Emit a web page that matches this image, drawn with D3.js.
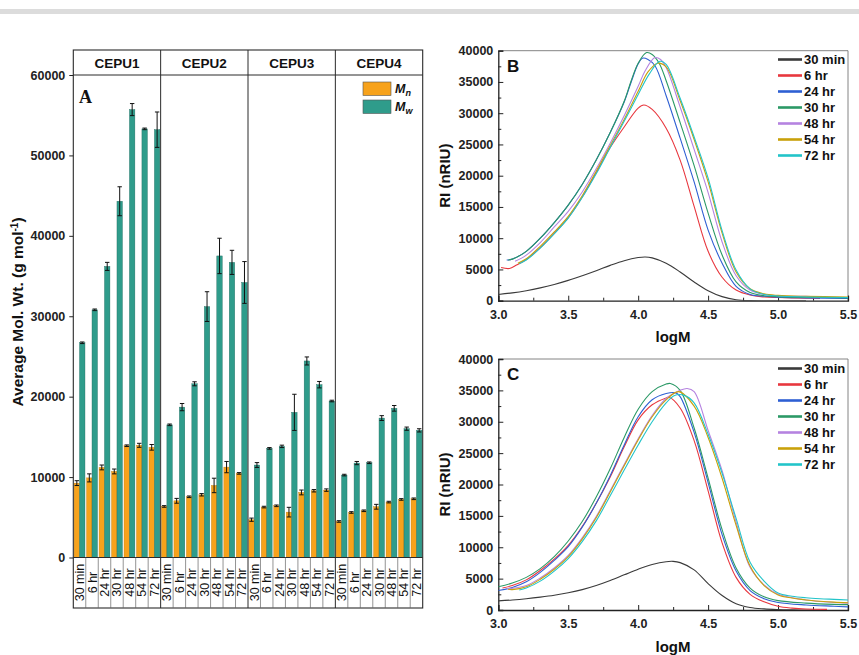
<!DOCTYPE html>
<html><head><meta charset="utf-8">
<script src="https://cdn.jsdelivr.net/npm/d3@7"></script>
<style>body{margin:0;background:#fff}svg{display:block}</style>
</head><body>
<svg id="c" width="859" height="655"></svg>
<script>
// ---------------- data ----------------
const groups = ["CEPU1","CEPU2","CEPU3","CEPU4"];
const times = ["30 min","6 hr","24 hr","30 hr","48 hr","54 hr","72 hr"];
const mnCEPU1 = [9250, 9900, 11200, 10700, 13900, 13950, 13700];
const mwCEPU1 = [26700, 30800, 36200, 44300, 55700, 53300, 53200];
const mnCEPU2 = [6350, 7050, 7550, 7800, 8960, 11240, 10460];
const mwCEPU2 = [16500, 18700, 21600, 31200, 37500, 36700, 34200];
const mnCEPU3 = [4700, 6270, 6430, 5640, 8090, 8300, 8380];
const mwCEPU3 = [11500, 13570, 13820, 18050, 24440, 21490, 19460];
const mnCEPU4 = [4480, 5600, 5810, 6310, 6890, 7220, 7300];
const mwCEPU4 = [10250, 11740, 11780, 17340, 18550, 16020, 15810];
const mnErrCEPU1 = [300, 500, 300, 300, 100, 250, 350];
const mwErrCEPU1 = [100, 100, 500, 1800, 750, 100, 2200];
const mnErrCEPU2 = [100, 300, 100, 150, 900, 700, 100];
const mwErrCEPU2 = [100, 450, 250, 1850, 2200, 1500, 2600];
const mnErrCEPU3 = [200, 100, 100, 600, 300, 150, 150];
const mwErrCEPU3 = [300, 100, 150, 2250, 500, 400, 100];
const mnErrCEPU4 = [100, 100, 100, 300, 100, 100, 100];
const mwErrCEPU4 = [100, 200, 100, 300, 350, 200, 200];
const barTicks = [0, 10000, 20000, 30000, 40000, 50000, 60000];

const seriesNames = ["30 min","6 hr","24 hr","30 hr","48 hr","54 hr","72 hr"];
const seriesColors = ["#3a3a3a","#e8373e","#2e5fd3","#2b9966","#b583e0","#c9a10a","#22c4c9"];
const riTicks = [0,5000,10000,15000,20000,25000,30000,35000,40000];
const logTicks = [3.0,3.5,4.0,4.5,5.0,5.5];

const b30min = [[3.0,1000],[3.1,1250],[3.2,1600],[3.3,2050],[3.4,2600],[3.5,3250],[3.6,4000],[3.7,4800],[3.8,5650],[3.9,6400],[4.0,6900],[4.05,7000],[4.1,6850],[4.2,6000],[4.3,4600],[4.4,3000],[4.5,1600],[4.6,650],[4.7,150],[4.8,10],[5.0,0],[5.2,0]];
const b6hr = [[3.02,5300],[3.08,5150],[3.13,5700],[3.2,6600],[3.3,8500],[3.4,10800],[3.5,13300],[3.6,16600],[3.7,20500],[3.8,24500],[3.9,27800],[4.0,30800],[4.04,31300],[4.1,30600],[4.2,27600],[4.3,22500],[4.4,15100],[4.5,7900],[4.6,3750],[4.7,1700],[4.8,900],[4.9,600],[5.0,500],[5.2,400],[5.3,350]];
const b24hr = [[3.06,6500],[3.1,6650],[3.2,7900],[3.3,10000],[3.4,12500],[3.5,15300],[3.6,18600],[3.7,22500],[3.8,26900],[3.9,31800],[3.95,35000],[4.0,37900],[4.03,38800],[4.07,38600],[4.12,37600],[4.2,32800],[4.3,26000],[4.4,19000],[4.5,11300],[4.6,6000],[4.7,2300],[4.8,1000],[4.9,700],[5.0,550],[5.2,450],[5.5,350]];
const b30hr = [[3.07,6500],[3.1,6650],[3.2,7900],[3.3,10000],[3.4,12500],[3.5,15300],[3.6,18600],[3.7,22500],[3.8,26900],[3.9,31900],[3.95,35200],[4.0,38000],[4.06,39700],[4.1,39400],[4.15,38000],[4.2,35200],[4.3,28500],[4.4,21600],[4.5,14000],[4.6,7300],[4.7,3000],[4.8,1300],[4.9,800],[5.0,650],[5.2,550],[5.5,450]];
const b48hr = [[3.12,6300],[3.2,7300],[3.3,9300],[3.4,11800],[3.5,14300],[3.6,17400],[3.7,21100],[3.8,25200],[3.9,29600],[4.0,34300],[4.05,36800],[4.12,38900],[4.16,38600],[4.2,37300],[4.3,31000],[4.4,24200],[4.5,17300],[4.6,9400],[4.7,4000],[4.8,1700],[4.9,1000],[5.0,800],[5.2,700],[5.3,650]];
const b54hr = [[3.14,6000],[3.2,6700],[3.3,8700],[3.4,11000],[3.5,13500],[3.6,16800],[3.7,20700],[3.8,24800],[3.9,29000],[4.0,33500],[4.07,36600],[4.14,38000],[4.2,37400],[4.3,32000],[4.4,25800],[4.5,19000],[4.6,10800],[4.7,4600],[4.8,1900],[4.9,1100],[5.0,850],[5.2,700],[5.5,600]];
const b72hr = [[3.15,5900],[3.2,6500],[3.3,8400],[3.4,10700],[3.5,13200],[3.6,16500],[3.7,20300],[3.8,24500],[3.9,28700],[4.0,33000],[4.08,36300],[4.155,38300],[4.2,37800],[4.3,32400],[4.4,26200],[4.5,19600],[4.6,11200],[4.7,4900],[4.8,1900],[4.9,1000],[5.0,750],[5.2,600],[5.5,500]];

const c30min = [[3.0,1450],[3.1,1600],[3.2,1800],[3.3,2050],[3.4,2350],[3.5,2750],[3.6,3250],[3.7,3900],[3.8,4700],[3.9,5600],[4.0,6500],[4.1,7250],[4.2,7700],[4.25,7750],[4.3,7550],[4.4,6400],[4.5,4200],[4.6,2300],[4.7,1000],[4.8,400],[4.9,180],[5.0,80],[5.1,30],[5.2,0],[5.3,0]];
const c6hr = [[3.03,3500],[3.1,3900],[3.2,4800],[3.3,6300],[3.4,8100],[3.5,10300],[3.6,13300],[3.7,17000],[3.8,21200],[3.9,26000],[4.0,30300],[4.1,32700],[4.2,33800],[4.22,33900],[4.3,32200],[4.4,27000],[4.5,19000],[4.6,10700],[4.7,5200],[4.8,2500],[4.9,1300],[5.0,600],[5.1,300],[5.2,150],[5.35,100]];
const c24hr = [[3.0,3100],[3.1,3600],[3.2,4500],[3.3,6000],[3.4,7900],[3.5,10100],[3.6,13200],[3.7,17000],[3.8,21400],[3.9,26300],[4.0,30800],[4.1,33500],[4.2,34500],[4.27,34600],[4.3,34000],[4.4,28300],[4.5,20300],[4.6,12000],[4.7,6200],[4.8,3100],[4.9,1800],[5.0,1200],[5.2,800],[5.4,600],[5.5,500]];
const c30hr = [[3.0,3700],[3.1,4300],[3.2,5200],[3.3,6600],[3.4,8500],[3.5,11000],[3.6,14100],[3.7,18000],[3.8,22500],[3.9,27500],[4.0,32000],[4.1,34800],[4.2,36000],[4.23,36100],[4.3,35000],[4.4,29000],[4.5,21000],[4.6,12800],[4.7,6700],[4.8,3500],[4.9,2100],[5.0,1500],[5.2,1100],[5.4,900],[5.5,850]];
const c48hr = [[3.06,3400],[3.1,3450],[3.2,3900],[3.3,5100],[3.4,6700],[3.5,8700],[3.6,11500],[3.7,14900],[3.8,19000],[3.9,23200],[4.0,27300],[4.1,31000],[4.2,33700],[4.3,35000],[4.35,35300],[4.4,34800],[4.5,28600],[4.6,22200],[4.7,14000],[4.8,6800],[4.9,4000],[5.0,2500],[5.2,1600],[5.4,1200],[5.5,1100]];
const c54hr = [[3.07,3300],[3.1,3250],[3.2,3700],[3.3,4900],[3.4,6500],[3.5,8500],[3.6,11300],[3.7,14700],[3.8,18800],[3.9,23000],[4.0,27100],[4.1,30800],[4.2,33500],[4.29,34800],[4.4,32500],[4.5,27500],[4.6,21000],[4.7,13500],[4.8,7000],[4.9,3900],[5.0,2400],[5.1,1900],[5.2,1600],[5.3,1400],[5.4,1250],[5.5,1150]];
const c72hr = [[3.15,3200],[3.2,3500],[3.3,4600],[3.4,6200],[3.5,8200],[3.6,10900],[3.7,14200],[3.8,18200],[3.9,22300],[4.0,26300],[4.1,30000],[4.2,33000],[4.26,34200],[4.33,34200],[4.4,33000],[4.5,28000],[4.6,21800],[4.7,14600],[4.8,7600],[4.9,4600],[5.0,2700],[5.1,2200],[5.2,1950],[5.3,1800],[5.4,1700],[5.5,1600]];

// ---------------- drawing ----------------
const svg = d3.select("#c");
const FONT = '"Liberation Sans",Arial,sans-serif';
svg.append("rect").attr("x",0).attr("y",9).attr("width",859).attr("height",5).attr("fill","#dcdcdc");
function txt(sel){ return sel.style("font-family",FONT); }

// ===== Panel A =====
const A = {x0:73.3, x1:422.7, top:50, head:75, base:557.5, bottom:608};
const mnAll = [mnCEPU1,mnCEPU2,mnCEPU3,mnCEPU4];
const mwAll = [mwCEPU1,mwCEPU2,mwCEPU3,mwCEPU4];
const mnErrAll = [mnErrCEPU1,mnErrCEPU2,mnErrCEPU3,mnErrCEPU4];
const mwErrAll = [mwErrCEPU1,mwErrCEPU2,mwErrCEPU3,mwErrCEPU4];
const rows = [];
groups.forEach((g,gi)=>times.forEach((t,ti)=>rows.push({g,t,key:g+"|"+t,mn:mnAll[gi][ti],mw:mwAll[gi][ti],mnE:mnErrAll[gi][ti],mwE:mwErrAll[gi][ti]})));
const xG = d3.scaleBand().domain(groups).range([A.x0,A.x1]).padding(0);
const xSlot = d3.scaleBand().domain(rows.map(r=>r.key)).range([A.x0,A.x1]).padding(0);
const xSub = d3.scaleBand().domain(["mn","mw"]).range([0,xSlot.bandwidth()]).paddingInner(0).paddingOuter(0.15);
const yA = d3.scaleLinear().domain([0,60000]).range([A.base,A.head]);
const gA = svg.append("g");
const subColor = {mn:"#f7a21b", mw:"#2f9c8b"};
const subStroke = {mn:"#c47d10", mw:"#1f6a5e"};
["mn","mw"].forEach(s=>{
  gA.selectAll("rect."+s).data(rows).join("rect")
    .attr("x",d=>xSlot(d.key)+xSub(s)).attr("width",xSub.bandwidth())
    .attr("y",d=>yA(d[s])).attr("height",d=>yA(0)-yA(d[s]))
    .attr("fill",subColor[s]).attr("stroke",subStroke[s]).attr("stroke-width",0.4);
});
["mn","mw"].forEach(s=>{
  const e = s==="mn"?"mnE":"mwE";
  const gE = gA.append("g").attr("stroke","#111").attr("stroke-width",1);
  rows.forEach(d=>{
    const cx = xSlot(d.key)+xSub(s)+xSub.bandwidth()/2;
    const y1 = yA(d[s]+d[e]), y2 = yA(d[s]-d[e]);
    gE.append("line").attr("x1",cx).attr("x2",cx).attr("y1",y1).attr("y2",y2);
    gE.append("line").attr("x1",cx-2.2).attr("x2",cx+2.2).attr("y1",y1).attr("y2",y1);
    gE.append("line").attr("x1",cx-2.2).attr("x2",cx+2.2).attr("y1",y2).attr("y2",y2);
  });
});
const axA = d3.axisLeft(yA).tickValues(barTicks).tickFormat(d3.format("d")).tickSize(4).tickPadding(4);
const gAx = svg.append("g").attr("transform",`translate(${A.x0},0)`).call(axA);
gAx.select(".domain").remove();
gAx.selectAll("line").attr("stroke","#222");
txt(gAx.selectAll("text")).attr("font-weight","bold").attr("font-size",12.5).attr("fill","#222");
const fr = svg.append("g").attr("fill","none").attr("stroke","#2a2a2a");
fr.append("rect").attr("x",A.x0).attr("y",A.top).attr("width",A.x1-A.x0).attr("height",A.bottom-A.top).attr("stroke-width",1.1);
fr.append("line").attr("x1",A.x0).attr("x2",A.x1).attr("y1",A.head).attr("y2",A.head).attr("stroke-width",1);
fr.append("line").attr("x1",A.x0).attr("x2",A.x1).attr("y1",A.base).attr("y2",A.base).attr("stroke-width",1.2);
groups.slice(1).forEach(g=>fr.append("line").attr("x1",xG(g)).attr("x2",xG(g)).attr("y1",A.top).attr("y2",A.bottom).attr("stroke-width",1));
rows.forEach((d,i)=>{ if(i%7!==0){ const x=xSlot(d.key); fr.append("line").attr("x1",x).attr("x2",x).attr("y1",A.base).attr("y2",A.bottom).attr("stroke","#666").attr("stroke-width",0.7);} });
txt(svg.selectAll("text.grp").data(groups).join("text"))
  .attr("x",g=>xG(g)+xG.bandwidth()/2).attr("y",67.5).attr("text-anchor","middle")
  .attr("font-weight","bold").attr("font-size",13.5).attr("fill","#111").text(g=>g);
txt(svg.selectAll("text.cat").data(rows).join("text"))
  .attr("transform",d=>`translate(${xSlot(d.key)+xSlot.bandwidth()/2+4.5},582.5) rotate(-90)`)
  .attr("text-anchor","middle").attr("font-size",12.5).attr("fill","#111").text(d=>d.t);
svg.append("text").attr("x",79).attr("y",103).style("font-family","'Liberation Serif','Times New Roman',serif").attr("font-weight","bold").attr("font-size",18).attr("fill","#111").text("A");
txt(svg.append("text")).attr("transform","translate(23,312) rotate(-90)").attr("text-anchor","middle")
  .attr("font-weight","bold").attr("font-size",15.5).attr("fill","#111")
  .call(t=>{t.append("tspan").text("Average Mol. Wt. (g mol");t.append("tspan").attr("dy",-5).attr("font-size",10).text("-1");t.append("tspan").attr("dy",5).text(")");});
[["mn","n",82],["mw","w",100]].forEach(([s,sub,y])=>{
  svg.append("rect").attr("x",363).attr("y",y).attr("width",28).attr("height",13.5).attr("fill",subColor[s]).attr("stroke","#555").attr("stroke-width",0.6);
  txt(svg.append("text")).attr("x",395).attr("y",y+11).attr("font-weight","bold").attr("font-style","italic").attr("font-size",12.5).attr("fill","#111")
    .call(t=>{t.append("tspan").text("M");t.append("tspan").attr("dy",3).attr("font-size",9).text(sub);});
});

// ===== Panels B & C =====
function panel(cfg){
  const x = d3.scaleLinear().domain([3,5.5]).range([498.3,848]);
  const y = d3.scaleLinear().domain([0,40000]).range([cfg.bottom,cfg.top]);
  const g = svg.append("g");
  const clipId = "clip"+cfg.letter;
  svg.append("clipPath").attr("id",clipId).append("rect").attr("x",498.3).attr("y",cfg.top).attr("width",848-498.3).attr("height",cfg.bottom-cfg.top);
  g.append("line").attr("x1",498.3).attr("x2",848).attr("y1",cfg.top).attr("y2",cfg.top).attr("stroke","#777").attr("stroke-width",0.9);
  g.append("line").attr("x1",848).attr("x2",848).attr("y1",cfg.top).attr("y2",cfg.bottom).attr("stroke","#777").attr("stroke-width",0.9);
  const ay = d3.axisLeft(y).tickValues(riTicks).tickFormat(d3.format("d")).tickSize(-5).tickPadding(5);
  const gy = g.append("g").attr("transform","translate(498.3,0)").call(ay);
  gy.selectAll(".tick line").attr("stroke","#222");
  gy.selectAll("text").attr("x",-5);
  const aym = d3.axisLeft(y).tickValues(d3.range(2500,40000,5000)).tickFormat("").tickSize(-3);
  const gym = g.append("g").attr("transform","translate(498.3,0)").call(aym); gym.select(".domain").remove(); gym.selectAll("line").attr("stroke","#222");
  const ax = d3.axisBottom(x).tickValues(logTicks).tickFormat(d3.format(".1f")).tickSize(-5).tickPadding(7);
  const gx = g.append("g").attr("transform",`translate(0,${cfg.bottom})`).call(ax);
  gx.selectAll(".tick line").attr("stroke","#222");
  gx.selectAll("text").attr("y",9);
  const axm = d3.axisBottom(x).tickValues([3.25,3.75,4.25,4.75,5.25]).tickFormat("").tickSize(-3);
  const gxm = g.append("g").attr("transform",`translate(0,${cfg.bottom})`).call(axm); gxm.select(".domain").remove(); gxm.selectAll("line").attr("stroke","#222");
  [gy,gx].forEach(a=>{a.select(".domain").attr("stroke","#222").attr("stroke-width",1.3);
    txt(a.selectAll("text")).attr("font-weight","bold").attr("font-size",12.5).attr("fill","#222");});
  const line = d3.line().x(d=>x(d[0])).y(d=>y(d[1])).curve(d3.curveCatmullRom.alpha(0.5));
  const gc = g.append("g").attr("clip-path",`url(#${clipId})`);
  cfg.series.forEach((s,i)=>gc.append("path").attr("d",line(s)).attr("fill","none").attr("stroke",seriesColors[i]).attr("stroke-width",1.1));
  txt(g.append("text")).attr("x",507).attr("y",cfg.top+21).attr("font-weight","bold").attr("font-size",17).attr("fill","#111").text(cfg.letter);
  txt(g.append("text")).attr("transform",`translate(450,${(cfg.top+cfg.bottom)/2}) rotate(-90)`).attr("text-anchor","middle")
    .attr("font-weight","bold").attr("font-size",15).attr("fill","#111").text("RI (nRIU)");
  txt(g.append("text")).attr("x",673).attr("y",cfg.xlabY).attr("text-anchor","middle").attr("font-weight","bold").attr("font-size",15).attr("fill","#111").text("logM");
  seriesNames.forEach((n,i)=>{
    const ly = cfg.legY + i*16;
    g.append("line").attr("x1",778).attr("x2",802).attr("y1",ly).attr("y2",ly).attr("stroke",seriesColors[i]).attr("stroke-width",2.6);
    txt(g.append("text")).attr("x",804).attr("y",ly+4.5).attr("font-weight","bold").attr("font-size",13).attr("fill","#111").text(n);
  });
}
panel({letter:"B", top:50.7, bottom:300.7, xlabY:342, legY:59.5, series:[b30min,b6hr,b24hr,b30hr,b48hr,b54hr,b72hr]});
panel({letter:"C", top:359, bottom:610, xlabY:652, legY:368.5, series:[c30min,c6hr,c24hr,c30hr,c48hr,c54hr,c72hr]});
</script>
</body></html>
